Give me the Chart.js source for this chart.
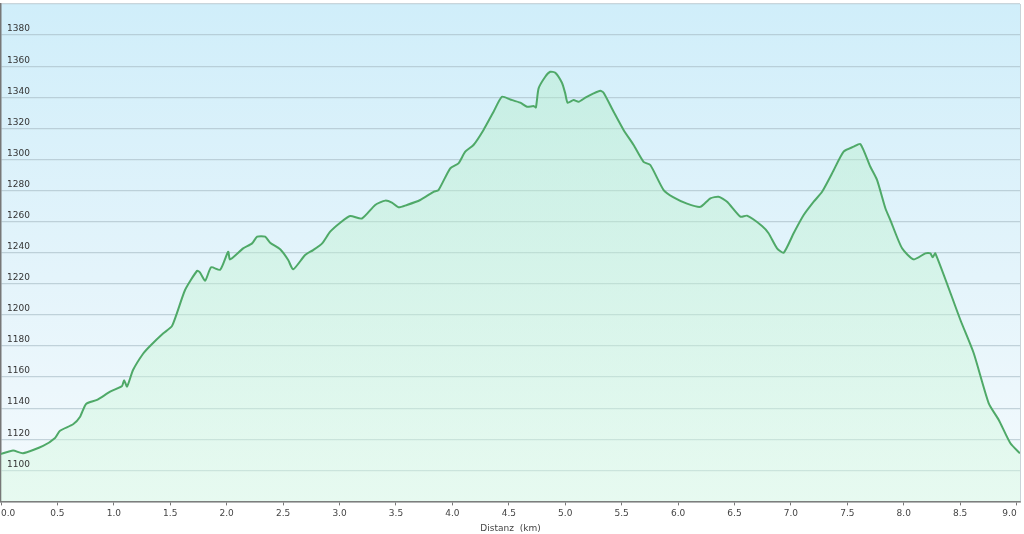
<!DOCTYPE html>
<html>
<head>
<meta charset="utf-8">
<script src="https://cdn.jsdelivr.net/npm/chart.js@4/dist/chart.umd.min.js"></script>
<style>
  html, body { margin: 0; padding: 0; background: #ffffff; }
  #wrap { width: 1024px; height: 534px; }
</style>
</head>
<body>
<div id="wrap"><canvas id="c" width="1024" height="534"></canvas></div>
<script>
// Distance along the route (km)
const distanceKm = [
  0.000, 0.107, 0.195, 0.373, 0.479, 0.523, 0.639, 0.701, 0.754, 0.851,
  0.967, 1.073, 1.091, 1.117, 1.170, 1.259, 1.321, 1.436, 1.516, 1.631,
  1.738, 1.764, 1.809, 1.862, 1.942, 2.013, 2.030, 2.146, 2.225, 2.270,
  2.341, 2.385, 2.474, 2.545, 2.589, 2.695, 2.766, 2.846, 2.917, 3.006,
  3.094, 3.198, 3.316, 3.405, 3.464, 3.522, 3.597, 3.715, 3.833, 3.877,
  3.981, 4.054, 4.114, 4.187, 4.276, 4.365, 4.439, 4.513, 4.601, 4.661,
  4.719, 4.740, 4.764, 4.823, 4.867, 4.912, 4.971, 5.000, 5.021, 5.074,
  5.118, 5.178, 5.251, 5.311, 5.340, 5.429, 5.517, 5.606, 5.694, 5.754,
  5.872, 5.960, 6.079, 6.197, 6.286, 6.359, 6.434, 6.552, 6.611, 6.744,
  6.802, 6.877, 6.936, 7.024, 7.113, 7.202, 7.276, 7.365, 7.467, 7.556,
  7.616, 7.704, 7.763, 7.837, 7.881, 7.985, 8.088, 8.192, 8.236, 8.256,
  8.280, 8.502, 8.620, 8.753, 8.842, 8.945, 9.030
];
// Elevation (m)
const elevationM = [
  1110.5, 1112.7, 1111.0, 1115.7, 1120.8, 1125.5, 1129.6, 1134.5, 1142.7, 1145.3,
  1150.6, 1154.3, 1158.0, 1153.9, 1164.5, 1175.0, 1180.0, 1188.0, 1192.9, 1216.0,
  1228.4, 1227.2, 1222.0, 1230.6, 1229.0, 1240.6, 1235.7, 1242.8, 1246.0, 1250.3,
  1250.3, 1246.4, 1242.2, 1235.3, 1229.3, 1238.5, 1241.7, 1246.0, 1253.5, 1259.3,
  1263.6, 1262.0, 1270.7, 1273.5, 1272.2, 1269.2, 1270.7, 1273.9, 1279.2, 1280.3,
  1294.3, 1297.5, 1305.0, 1309.3, 1319.0, 1330.7, 1340.3, 1338.6, 1336.5, 1333.9,
  1334.3, 1333.5, 1345.7, 1353.2, 1356.4, 1355.8, 1349.3, 1342.5, 1336.5, 1338.2,
  1337.1, 1339.7, 1342.5, 1344.2, 1342.9, 1330.7, 1319.0, 1309.3, 1298.5, 1296.4,
  1280.3, 1275.6, 1271.6, 1269.5, 1275.0, 1276.0, 1272.8, 1263.2, 1263.8, 1257.2,
  1252.5, 1242.8, 1240.0, 1252.5, 1264.2, 1272.8, 1279.2, 1291.1, 1305.0, 1308.2,
  1309.9, 1295.3, 1286.8, 1268.6, 1261.0, 1242.8, 1235.7, 1239.6, 1239.6, 1237.0,
  1239.6, 1196.7, 1175.3, 1143.1, 1132.4, 1117.4, 1110.9
];
// Tick values
const xTickValues = [0, 0.5, 1, 1.5, 2, 2.5, 3, 3.5, 4, 4.5, 5, 5.5, 6, 6.5, 7, 7.5, 8, 8.5, 9];
const yTickValues = [1080, 1100, 1120, 1140, 1160, 1180, 1200, 1220, 1240, 1260, 1280, 1300, 1320, 1340, 1360, 1380, 1400];
// Axis settings
const yMin = 1080, yMax = 1400;
const xMin = 0, xMax = 9.03;
const xTitle = 'Distanz  (km)';

const points = distanceKm.map((d, i) => ({ x: d, y: elevationM[i] }));

const bgPlugin = {
  id: 'areaBg',
  beforeDraw(chart) {
    const { ctx, chartArea: a } = chart;
    const g = ctx.createLinearGradient(0, a.top, 0, a.bottom);
    g.addColorStop(0, '#d0eefa');
    g.addColorStop(0.55, '#e4f4fb');
    g.addColorStop(1, '#f4fafd');
    ctx.save();
    ctx.fillStyle = g;
    ctx.fillRect(a.left, a.top, a.right - a.left, a.bottom - a.top);
    ctx.restore();
  },
  afterDraw(chart) {
    const { ctx, chartArea: a } = chart;
    ctx.save();
    ctx.strokeStyle = '#c9d3d8';
    ctx.lineWidth = 1;
    ctx.beginPath();
    ctx.moveTo(a.right + 0.5, a.top);
    ctx.lineTo(a.right + 0.5, a.bottom);
    ctx.stroke();
    ctx.restore();
  }
};

new Chart(document.getElementById('c'), {
  type: 'line',
  data: {
    datasets: [{
      data: points,
      borderColor: '#4fa968',
      borderWidth: 2,
      pointRadius: 0,
      tension: 0.2,
      fill: 'start',
      backgroundColor: (ctx) => {
        const a = ctx.chart.chartArea;
        if (!a) return 'rgba(160,230,185,0.3)';
        const g = ctx.chart.ctx.createLinearGradient(0, a.top, 0, a.bottom);
        g.addColorStop(0, 'rgba(170,235,190,0.38)');
        g.addColorStop(1, 'rgba(215,250,225,0.45)');
        return g;
      }
    }]
  },
  options: {
    responsive: false,
    animation: false,
    layout: { padding: { top: 4, right: 4, left: 0, bottom: 0 } },
    plugins: { legend: { display: false }, tooltip: { enabled: false } },
    scales: {
      x: {
        type: 'linear',
        min: xMin, max: xMax,
        afterFit: (s) => { s.paddingLeft = 0; s.paddingRight = 0; },
        afterBuildTicks: (s) => {
          s.ticks = xTickValues.map(v => ({ value: v }));
        },
        ticks: {
          autoSkip: false,
          maxRotation: 0,
          align: 'inner',
          padding: 3,
          color: '#444',
          font: { family: 'DejaVu Sans', size: 9 },
          callback: (v) => Number(v).toFixed(1)
        },
        grid: {
          drawOnChartArea: false,
          drawTicks: true,
          tickLength: 4,
          color: '#777'
        },
        border: { display: true, color: '#777', width: 1.5 },
        title: {
          display: true,
          text: xTitle,
          color: '#444',
          font: { family: 'DejaVu Sans', size: 9 },
          padding: { top: 1, bottom: 0 }
        }
      },
      y: {
        min: yMin, max: yMax,
        afterFit: (s) => { s.width = 1; s.paddingTop = 0; s.paddingBottom = 0; },
        afterBuildTicks: (s) => {
          s.ticks = yTickValues.map(v => ({ value: v }));
        },
        ticks: {
          z: 1,
          mirror: true,
          padding: 6,
          labelOffset: -6,
          color: '#333',
          font: { family: 'DejaVu Sans', size: 9 },
          callback: (v) => (v === yMin || v === yMax) ? '' : String(v)
        },
        grid: {
          drawTicks: false,
          color: 'rgba(165,185,195,0.6)',
          lineWidth: 1.2
        },
        border: { display: true, color: '#777', width: 1.5 }
      }
    }
  },
  plugins: [bgPlugin]
});
</script>
</body>
</html>
